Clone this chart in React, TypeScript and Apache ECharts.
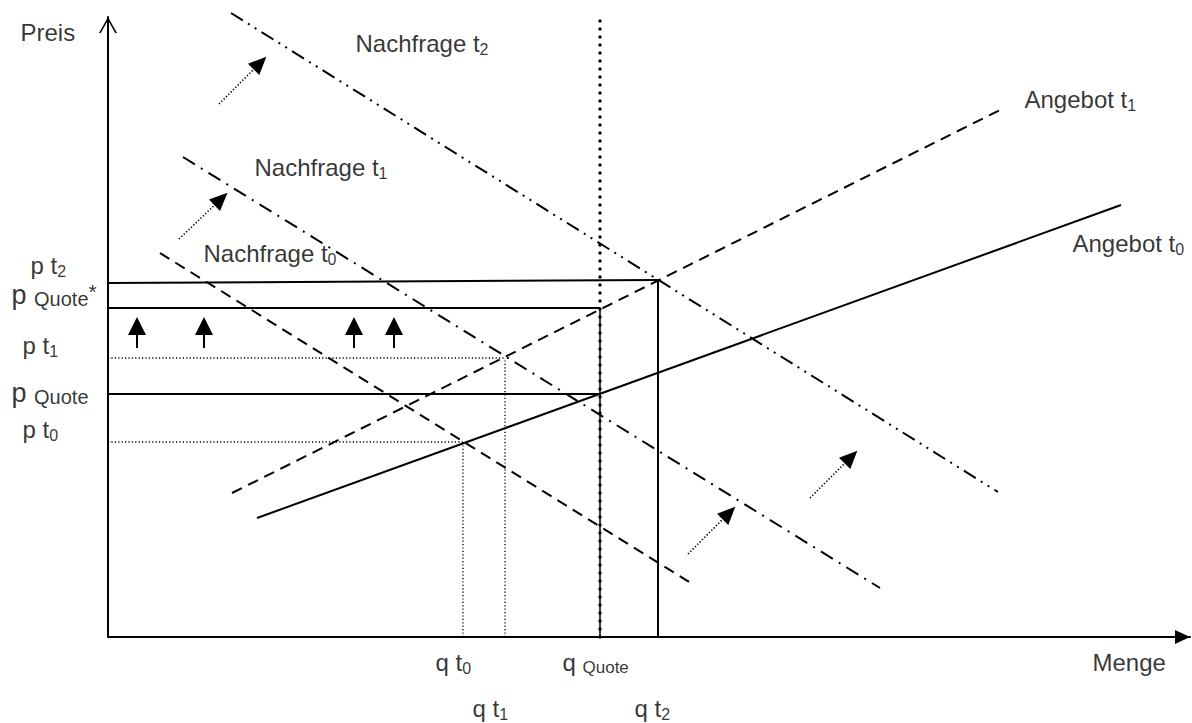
import React, { useEffect, useRef } from "react";
import * as echarts from "echarts";

const FONT = "'Liberation Sans', Arial, Helvetica, sans-serif";

// Diagram units: origin at the axes crossing, x = Menge, y = Preis
const X_MAX = 1082;
const Y_MAX = 620;

// Curves (endpoints)
const angebotT0 = [[149, 119], [1013, 432]];
const angebotT1 = [[124, 144], [894, 528]];
const nachfrageT0 = [[52, 384], [586, 52]];
const nachfrageT1 = [[75, 480], [772, 49]];
const nachfrageT2 = [[123, 624], [890, 145]];

// Price levels
const pT0 = 195;
const pQuote = 243;
const pT1 = 279;
const pQuoteStar = 329;
const pT2Left = 354;
const pT2Right = 357;

// Quantity levels
const qT0 = 355;
const qT1 = 397;
const qQuote = 492;
const qT2 = 550;

// Upward price-pressure arrows: x positions, stem from/to
const upArrowX = [29, 96, 246, 286];
const upArrowFrom = 289;
const upArrowTo = 311;

// Demand shift arrows: [fromX, fromY, toX, toY]
const shiftArrows = [
  [111, 533, 152, 574],
  [71, 398, 113, 438],
  [580, 83, 621, 124],
  [702, 139, 743, 180],
];

// Text labels: [x, y, rich text]
const labels: [number, number, string][] = [
  [-88, 605, "{m|Preis}"],
  [984, -25, "{m|Menge}"],
  [247, 594, "{m|Nachfrage t}{s|2}"],
  [146, 470, "{m|Nachfrage t}{s|1}"],
  [95, 384, "{m|Nachfrage t}{s|0}"],
  [916, 538, "{m|Angebot t}{s|1}"],
  [964, 394, "{m|Angebot t}{s|0}"],
  [-78, 372, "{m|p t}{s|2}"],
  [-97, 342, "{P|p }{L|Quote}{sup|*}"],
  [-86, 292, "{m|p t}{s|1}"],
  [-97, 244, "{P|p }{L|Quote}"],
  [-86, 208, "{m|p t}{s|0}"],
  [327, -25, "{m|q t}{s|0}"],
  [454, -25, "{m|q }{Q|Quote}"],
  [364, -71, "{m|q t}{s|1}"],
  [526, -71, "{m|q t}{s|2}"],
];

const BLACK = "#000";

function lineSeries(data: number[][], width: number, type: any, extra: any = {}) {
  return {
    type: "line",
    data,
    symbol: "none",
    clip: false,
    silent: true,
    lineStyle: { color: BLACK, width, type, ...extra },
  };
}

export default function App() {
  const ref = useRef<HTMLDivElement>(null);

  useEffect(() => {
    document.body.style.margin = "0";
    if (!ref.current) return;
    const chart = echarts.init(ref.current, null, { renderer: "svg" });

    const dotted = [1.2, 2.2];
    const series: any[] = [
      lineSeries(angebotT0, 2, "solid"),
      lineSeries(angebotT1, 2, [11, 7]),
      lineSeries(nachfrageT0, 2, [11, 7]),
      lineSeries(nachfrageT1, 2, [14, 7, 2, 7]),
      lineSeries(nachfrageT2, 2, [14, 6, 2, 6, 2, 6]),
      // price guides
      lineSeries([[0, pT2Left], [qT2, pT2Right]], 2, "solid"),
      lineSeries([[0, pQuoteStar], [qQuote, pQuoteStar]], 2, "solid"),
      lineSeries([[0, pT1], [qT1, pT1]], 1.3, dotted),
      lineSeries([[0, pQuote], [qQuote, pQuote]], 2, "solid"),
      lineSeries([[0, pT0], [qT0, pT0]], 1.3, dotted),
      // quantity guides
      lineSeries([[qT0, 0], [qT0, pT0]], 1.3, dotted),
      lineSeries([[qT1, 0], [qT1, pT1]], 1.3, dotted),
      lineSeries([[qQuote, 0], [qQuote, pQuoteStar]], 1.5, "solid"),
      lineSeries([[qQuote, 0], [qQuote, Y_MAX]], 3.4, [0.1, 7.9], { cap: "round" }),
      lineSeries([[qT2, 0], [qT2, pT2Right]], 2, "solid"),
      // arrows
      {
        type: "line",
        data: [],
        silent: true,
        markLine: {
          silent: true,
          animation: false,
          symbol: ["none", "triangle"],
          symbolSize: [18, 18],
          label: { show: false },
          emphasis: { disabled: true },
          data: [
            ...upArrowX.map((x) => [
              { coord: [x, upArrowFrom], lineStyle: { color: BLACK, width: 2, type: "solid" } },
              { coord: [x, upArrowTo] },
            ]),
            ...shiftArrows.map((a) => [
              {
                coord: [a[0], a[1]],
                symbolSize: [16, 18],
                lineStyle: { color: BLACK, width: 1.6, type: [1.3, 2] },
              },
              { coord: [a[2], a[3]], symbolSize: [16, 18] },
            ]),
          ],
        },
      },
      // labels
      {
        type: "scatter",
        clip: false,
        silent: true,
        symbol: "circle",
        symbolSize: 1,
        itemStyle: { color: "rgba(0,0,0,0)" },
        data: labels.map((l) => [l[0], l[1]]),
        label: {
          show: true,
          position: "right",
          distance: 0,
          formatter: (p: any) => labels[p.dataIndex][2],
          color: BLACK,
          fontFamily: FONT,
          rich: {
            m: { fontSize: 24, lineHeight: 28, fontFamily: FONT, color: BLACK },
            P: { fontSize: 27, lineHeight: 28, fontFamily: FONT, color: BLACK },
            s: { fontSize: 16, lineHeight: 18, verticalAlign: "bottom", fontFamily: FONT, color: BLACK },
            Q: { fontSize: 17, lineHeight: 19, verticalAlign: "bottom", fontFamily: FONT, color: BLACK },
            L: { fontSize: 20, lineHeight: 21, verticalAlign: "bottom", fontFamily: FONT, color: BLACK },
            sup: { fontSize: 21, lineHeight: 16, verticalAlign: "top", fontFamily: FONT, color: BLACK },
          },
        },
      },
    ];

    chart.setOption({
      animation: false,
      backgroundColor: "#fff",
      grid: { left: 108, right: 2, top: 17, bottom: 86, containLabel: false },
      xAxis: {
        type: "value",
        min: 0,
        max: X_MAX,
        axisLine: {
          show: true,
          onZero: false,
          symbol: ["none", "triangle"],
          symbolSize: [14, 15],
          symbolOffset: [0, -7.5],
          lineStyle: { color: BLACK, width: 2 },
        },
        axisTick: { show: false },
        axisLabel: { show: false },
        splitLine: { show: false },
      },
      yAxis: {
        type: "value",
        min: 0,
        max: Y_MAX,
        axisLine: {
          show: true,
          onZero: false,
          symbol: ["none", "path://M0,16 L9,0 L18,16 L16.2,16 L9,3.2 L1.8,16 Z"],
          symbolSize: [18, 16],
          symbolOffset: [0, -8],
          lineStyle: { color: BLACK, width: 2 },
        },
        axisTick: { show: false },
        axisLabel: { show: false },
        splitLine: { show: false },
      },
      series,
    });

    return () => chart.dispose();
  }, []);

  return (
    <div
      ref={ref}
      style={{ position: "fixed", left: 0, top: 0, width: 1192, height: 723, background: "#fff" }}
    />
  );
}
